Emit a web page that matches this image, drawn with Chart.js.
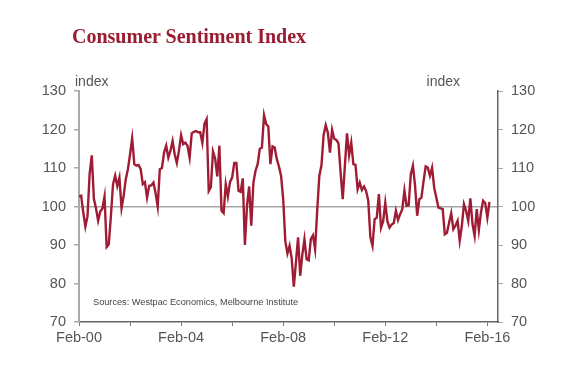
<!DOCTYPE html>
<html>
<head>
<meta charset="utf-8">
<script src="https://cdn.jsdelivr.net/npm/chart.js@4"></script>
<style>
  body { margin: 0; background: #fff; }
  #wrap { position: relative; width: 566px; height: 372px; }
  #chart { position: absolute; left: 0; top: 0; }
  .txt { position: absolute; white-space: nowrap; font-family: "Liberation Sans", Arial, sans-serif; }
  #title { left: 72px; top: 26px; font: bold 20px/20px "Liberation Serif", "Times New Roman", serif; color: #9b1b30; }
  #unitL { left: 75px; top: 74px; font-size: 14px; line-height: 14px; color: #555; }
  #unitR { right: 106px; top: 74px; font-size: 14px; line-height: 14px; color: #555; }
  #source { left: 93px; top: 297px; font-size: 9.2px; line-height: 10px; color: #444; }
</style>
</head>
<body>
<div id="wrap">
  <canvas id="chart" width="566" height="372"></canvas>
  <div id="title" class="txt">Consumer Sentiment Index</div>
  <div id="unitL" class="txt">index</div>
  <div id="unitR" class="txt">index</div>
  <div id="source" class="txt">Sources: Westpac Economics, Melbourne Institute</div>
</div>
<script>
// 월 번호 (0 = Feb-00) 기준 눈금
const xTickValues = [0, 24, 48, 72, 96, 120, 144, 168, 192];
const xTickLabels = ['Feb-00', '', 'Feb-04', '', 'Feb-08', '', 'Feb-12', '', 'Feb-16'];
const yTickValues = [70, 80, 90, 100, 110, 120, 130];

// 소비자 심리지수, Feb-00 부터 월별
const sentiment2000s = [
    102.6, 102.8, 98.5, 94.8, 97.5, 108.5, 113.3, 102, 99.5, 96.3, 98.7, 99.5,
    102.6, 89.5, 90.2, 97.5, 105.8, 108, 105.3, 107.5, 99.6, 102.8, 107.1, 109.7,
    113.5, 117.7, 111, 110.6, 110.8, 109.7, 105.8, 106.3, 102.3, 105.4, 105.5, 106.2,
    103.5, 100, 109.7, 110, 114, 115.8, 112.7, 114.5, 117, 113.5, 111.3, 114.5,
    118.5, 116.2, 116.6, 115.8, 112.7, 119, 119.4, 119.6, 119.3, 119.3, 116.5, 121.5,
    122.7, 104, 105, 114.3, 112.5, 107.8, 115.8, 98.9, 98.3, 105.8, 102.6, 106.4,
    107.5, 111.3, 111.3, 104.1, 103.8, 107.3, 90, 100.3, 105.2, 95, 106.2, 109.3,
    111, 115, 115.3, 123.7, 121.4, 120.8, 111, 115.6, 115.3, 112.3, 110.4, 108
];
const sentiment2008s = [
    102, 91, 87.8, 89.8, 86.5, 79.2, 85.5, 92, 82, 87.5, 91.5, 86.3,
    86, 91.5, 92.5, 88.9, 99, 108, 110.7, 118.5, 121.1, 119.2, 114, 119.9,
    117.6, 117.3, 116.4, 108.8, 101.9, 110.5, 119, 113.3, 116.6, 111, 110.8, 104.5,
    106.2, 104.3, 105.2, 104, 101.5, 92, 89.8, 96.7, 97.1, 103.2, 94.5, 96.2,
    101, 96.2, 94.5, 95.3, 95.7, 98.9, 96.5, 98, 99.3, 104.1, 100.2, 100.3,
    108.4, 110.6, 105.4, 97.6, 101.9, 102.3, 106.6, 110.4, 110.1, 108, 110.1, 104.9,
    102.3, 99.7, 99.5, 99.3, 92.8, 93.2, 95.8, 98.3, 94.1, 95, 96.3, 91.1,
    95, 100.6, 98.9, 96.3, 102.1, 95.5, 92.4, 99.3, 93.9, 98.5, 101.5, 100.9,
    97.1, 101.2
];
const sentiment = sentiment2000s.concat(sentiment2008s);
const points = sentiment.map((v, i) => ({ x: i, y: v }));

const lineColor = '#a01c34';
const textColor = '#555';
const tickFont = { family: '"Liberation Sans", Arial, sans-serif', size: 14.5 };

function fixTicks(values) {
    return function(scale) {
        scale.ticks = values.map(v => ({ value: v }));
    };
}

new Chart(document.getElementById('chart').getContext('2d'), {
    type: 'line',
    data: {
        datasets: [{
            data: points,
            borderColor: lineColor,
            borderWidth: 2.4,
            pointRadius: 0,
            tension: 0,
            fill: false,
            yAxisID: 'y'
        }]
    },
    options: {
        responsive: false,
        devicePixelRatio: 1,
        animation: false,
        layout: { padding: { top: 91, left: 0, right: 0, bottom: 0 } },
        plugins: { legend: { display: false }, tooltip: { enabled: false } },
        scales: {
            x: {
                type: 'linear',
                min: 0,
                max: 197,
                afterBuildTicks: fixTicks(xTickValues),
                afterFit: s => { s.height = 50; },
                border: { display: true, color: '#666', width: 1.5 },
                grid: { drawOnChartArea: false, drawTicks: true, tickLength: 4, tickColor: '#777' },
                ticks: {
                    color: textColor,
                    font: tickFont,
                    padding: 3,
                    maxRotation: 0,
                    autoSkip: false,
                    callback: (v, i) => xTickLabels[i]
                }
            },
            y: {
                position: 'left',
                min: 70,
                max: 130,
                afterBuildTicks: fixTicks(yTickValues),
                afterFit: s => { s.width = 79; },
                border: { display: true, color: '#aaa', width: 2 },
                grid: {
                    drawOnChartArea: true,
                    color: c => (c.tick && c.tick.value === 100) ? '#a6a6a6' : 'rgba(0,0,0,0)',
                    lineWidth: 1.5,
                    tickLength: 5,
                    tickColor: '#aaa'
                },
                ticks: { color: textColor, font: tickFont, padding: 8 }
            },
            y2: {
                position: 'right',
                min: 70,
                max: 130,
                afterBuildTicks: fixTicks(yTickValues),
                afterFit: s => { s.width = 68; },
                border: { display: true, color: '#666', width: 1.5 },
                grid: { drawOnChartArea: false, tickLength: 5, tickColor: '#aaa' },
                ticks: { color: textColor, font: tickFont, padding: 8 }
            }
        }
    }
});
</script>
</body>
</html>
